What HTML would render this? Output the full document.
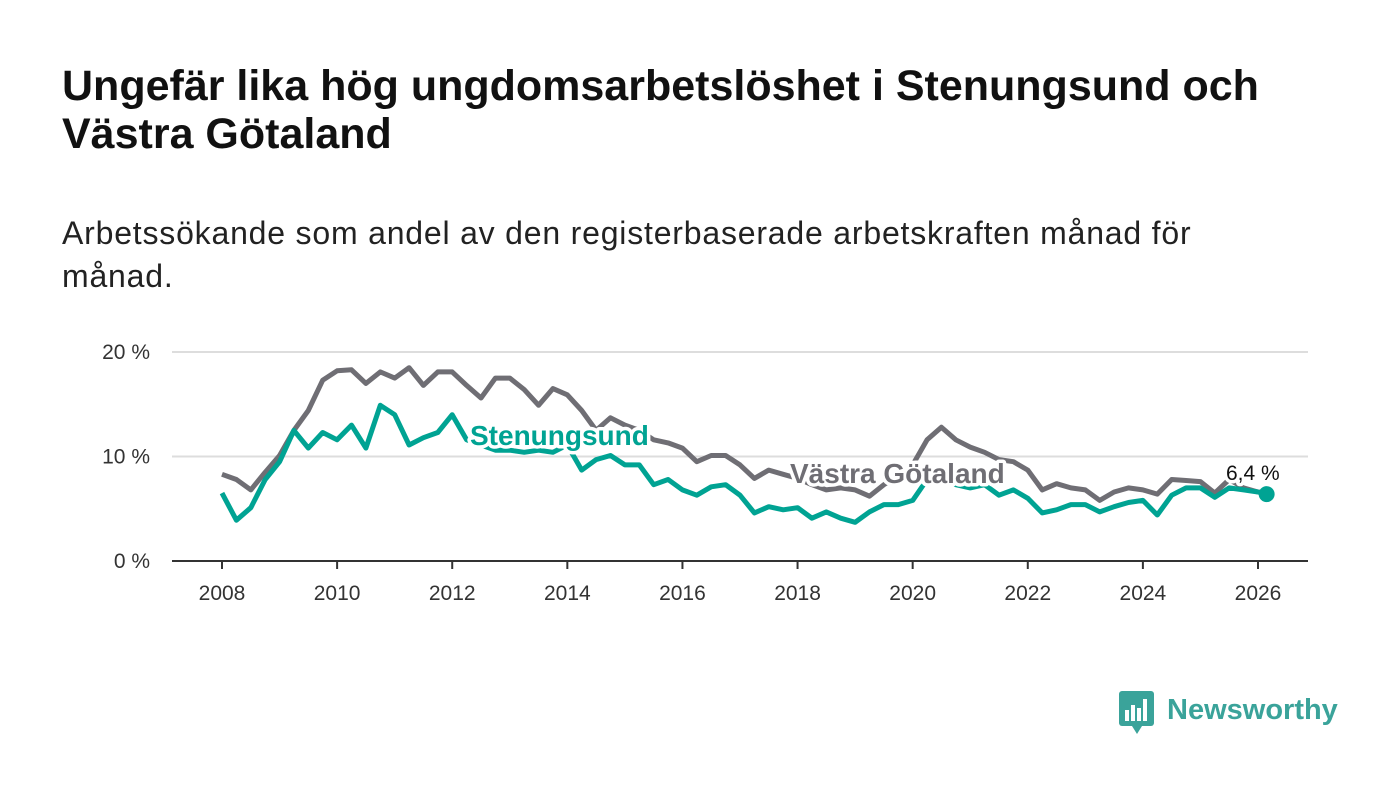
<!DOCTYPE html>
<html><head><meta charset="utf-8"><style>
body{margin:0;background:#fff;width:1400px;height:794px;overflow:hidden;font-family:"Liberation Sans","DejaVu Sans",sans-serif;}
h1{position:absolute;left:62px;top:62px;margin:0;font-size:43px;line-height:48px;font-weight:bold;color:#111;width:1250px;}
.sub{position:absolute;left:62px;top:212px;margin:0;font-size:32px;letter-spacing:0.8px;line-height:43px;color:#222;width:1200px;}
svg{position:absolute;left:0;top:0;}
</style></head><body>
<h1>Ungefär lika hög ungdomsarbetslöshet i Stenungsund och Västra Götaland</h1>
<p class="sub">Arbetssökande som andel av den registerbaserade arbetskraften månad för månad.</p>
<svg id="c" width="1400" height="794"></svg>
<script>
const years=[2008,2008.25,2008.5,2008.75,2009,2009.25,2009.5,2009.75,2010,2010.25,2010.5,2010.75,2011,2011.25,2011.5,2011.75,2012,2012.25,2012.5,2012.75,2013,2013.25,2013.5,2013.75,2014,2014.25,2014.5,2014.75,2015,2015.25,2015.5,2015.75,2016,2016.25,2016.5,2016.75,2017,2017.25,2017.5,2017.75,2018,2018.25,2018.5,2018.75,2019,2019.25,2019.5,2019.75,2020,2020.25,2020.5,2020.75,2021,2021.25,2021.5,2021.75,2022,2022.25,2022.5,2022.75,2023,2023.25,2023.5,2023.75,2024,2024.25,2024.5,2024.75,2025,2025.25,2025.5,2025.75,2026,2026.15];
const vastra=[8.3,7.8,6.8,8.5,10.1,12.5,14.4,17.3,18.2,18.3,17.0,18.1,17.5,18.5,16.8,18.1,18.1,16.8,15.6,17.5,17.5,16.4,14.9,16.5,15.9,14.4,12.5,13.7,13.0,12.5,11.6,11.3,10.8,9.5,10.1,10.1,9.2,7.9,8.7,8.3,7.9,7.3,6.8,7.0,6.8,6.2,7.3,8.2,9.2,11.6,12.8,11.6,10.9,10.4,9.7,9.5,8.7,6.8,7.4,7.0,6.8,5.8,6.6,7.0,6.8,6.4,7.8,7.7,7.6,6.5,7.8,7.0,6.6,6.5];
const stenung=[6.5,3.9,5.1,7.8,9.5,12.5,10.8,12.3,11.6,13.0,10.8,14.9,14.0,11.1,11.8,12.3,14.0,11.6,11.1,10.6,10.6,10.4,10.6,10.4,11.1,8.7,9.7,10.1,9.2,9.2,7.3,7.8,6.8,6.3,7.1,7.3,6.3,4.6,5.2,4.9,5.1,4.1,4.7,4.1,3.7,4.7,5.4,5.4,5.8,7.8,8.2,7.3,7.0,7.3,6.3,6.8,6.0,4.6,4.9,5.4,5.4,4.7,5.2,5.6,5.8,4.4,6.3,7.0,7.0,6.1,7.0,6.8,6.6,6.4];
const yTicks=[0,10,20];
const xTicks=[2008,2010,2012,2014,2016,2018,2020,2022,2024,2026];
const NS="http://www.w3.org/2000/svg",svg=document.getElementById('c');
const X=v=>222+(v-2008)*(1258-222)/18, Y=v=>561-v*10.45;
function mk(t,a,p){const e=document.createElementNS(NS,t);for(const k in a)e.setAttribute(k,a[k]);(p||svg).appendChild(e);return e;}
yTicks.forEach(t=>{
 const l=mk('line',{x1:172,x2:1308,y1:Y(t),y2:Y(t),stroke:t?'#ddd':'#333','stroke-width':2});
 
 
 const tx=mk('text',{x:150,y:Y(t)+7,'text-anchor':'end','font-size':21,fill:'#333'});tx.textContent=t+' %';
 
 
});
xTicks.forEach(t=>{
 const l=mk('line',{x1:X(t),x2:X(t),y1:561,y2:569,stroke:'#333','stroke-width':2});
 
 
 const tx=mk('text',{x:X(t),y:600,'text-anchor':'middle','font-size':21,fill:'#333'});tx.textContent=t;
 
 
});
function line(arr,col,name){const d=arr.map((v,i)=>(i?'L':'M')+X(years[i]).toFixed(1)+','+Y(v).toFixed(1)).join('');
 const p=mk('path',{d:d,fill:'none',stroke:col,'stroke-width':5,'stroke-linejoin':'round'});
 
 }
line(vastra,'#6f6e74','vastra-gotaland-line');
line(stenung,'#00a393','stenungsund-line');
const last=stenung.length-1;
const dot=mk('circle',{cx:X(years[last]),cy:Y(stenung[last]),r:8,fill:'#00a393'});


function lab(x,y,s,col,sz,w,name){const t=mk('text',{x:x,y:y,'font-size':sz,'font-weight':w,fill:col,stroke:'#fff','stroke-width':7,'paint-order':'stroke','stroke-linejoin':'round'});t.textContent=s;
 
 }
lab(470,445,'Stenungsund','#00a393',28,'bold','stenungsund-label');
lab(790,483,'Västra Götaland','#6f6e74',28,'bold','vastra-gotaland-label');
lab(1226,480,'6,4 %','#111',21,'normal','last-value-label');
const g=mk('g',{});


mk('rect',{x:1119,y:691,width:35,height:35,rx:3,fill:'#3aa39a'},g);
mk('path',{d:'M1132,726 L1137,734 L1142,726 Z',fill:'#3aa39a'},g);
[[1125,710,4,11],[1131,705,4,16],[1137,708,4,13],[1143,699,4,22]].forEach(b=>mk('rect',{x:b[0],y:b[1],width:b[2],height:b[3],fill:'#fff'},g));
const lt=mk('text',{x:1167,y:719,'font-size':29,'font-weight':'bold',fill:'#3aa39a'},g);lt.textContent='Newsworthy';
</script>
</body></html>
